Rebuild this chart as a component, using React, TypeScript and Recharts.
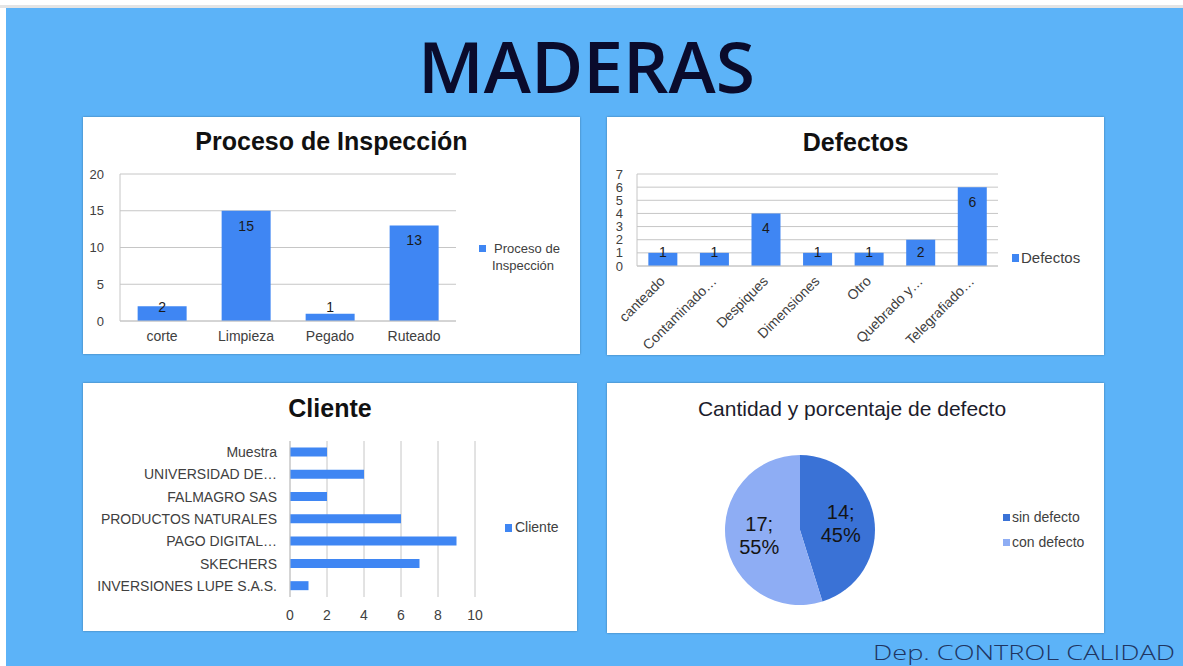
import React from 'react';
import { BarChart, Bar, XAxis, YAxis, CartesianGrid, LabelList, PieChart, Pie, Cell } from 'recharts';

// ---------- data ----------
const procesoCategories = ['corte', 'Limpieza', 'Pegado', 'Ruteado'];
const procesoValues = [2, 15, 1, 13];
const procesoTicks = [0, 5, 10, 15, 20];
const procesoSeries = 'Proceso de Inspección';

const defectosCategories = ['canteado', 'Contaminado…', 'Despiques', 'Dimensiones', 'Otro', 'Quebrado y…', 'Telegrafiado…'];
const defectosValues = [1, 1, 4, 1, 1, 2, 6];
const defectosTicks = [0, 1, 2, 3, 4, 5, 6, 7];
const defectosSeries = 'Defectos';

const clienteCategories = ['Muestra', 'UNIVERSIDAD DE…', 'FALMAGRO SAS', 'PRODUCTOS NATURALES', 'PAGO DIGITAL…', 'SKECHERS', 'INVERSIONES LUPE S.A.S.'];
const clienteValues = [2, 4, 2, 6, 9, 7, 1];
const clienteTicks = [0, 2, 4, 6, 8, 10];
const clienteSeries = 'Cliente';

const pieCategories = ['sin defecto', 'con defecto'];
const pieValues = [14, 17];
const pieTitle = 'Cantidad y porcentaje de defecto';

const mainTitle = 'MADERAS';
const footerText = 'Dep. CONTROL CALIDAD';

// ---------- styles ----------
const FONT = "'Liberation Sans', Arial, sans-serif";
const BLUE_BG = '#5cb3f8';
const BAR = '#3f86f3';
const PIE_COLORS = ['#3a72d6', '#8eadf4'];
const GRID = '#c6c6c6';
const TICK = '#404040';

const procesoData = procesoCategories.map((c, i) => ({ name: c, value: procesoValues[i] }));
const defectosData = defectosCategories.map((c, i) => ({ name: c, value: defectosValues[i] }));
const clienteData = clienteCategories.map((c, i) => ({ name: c, value: clienteValues[i] }));
const pieData = pieCategories.map((c, i) => ({ name: c, value: pieValues[i] }));

const BarValueLabel = (props: any) => {
  const { x, y, width, height, value } = props;
  const cy = Number(y) + Math.min(15, Number(height) - 14);
  return (
    <text x={Number(x) + Number(width) / 2} y={cy} dy="0.35em" textAnchor="middle" fontSize={14} fill="#1a1a1a" fontFamily={FONT}>
      {value}
    </text>
  );
};

const RotatedTick = (props: any) => {
  const { x, y, payload } = props;
  return (
    <g transform={`translate(${x + 3},${y + 10})`}>
      <text x={0} y={0} textAnchor="end" transform="rotate(-45)" fontSize={14} fill={TICK} fontFamily={FONT}>
        {payload.value}
      </text>
    </g>
  );
};

const RADIAN = Math.PI / 180;
const PieLabel = (props: any) => {
  const { cx, cy, midAngle, outerRadius, value, percent } = props;
  const r = outerRadius * 0.55;
  const lx = cx + r * Math.cos(-midAngle * RADIAN);
  const ly = cy + r * Math.sin(-midAngle * RADIAN);
  return (
    <text x={lx} y={ly} textAnchor="middle" fontSize={20} fill="#141414" fontFamily={FONT}>
      <tspan x={lx} dy="-0.25em">{`${value};`}</tspan>
      <tspan x={lx} dy="1.15em">{`${Math.round(percent * 100)}%`}</tspan>
    </text>
  );
};

const panel = (left: number, top: number, width: number, height: number): React.CSSProperties => ({
  position: 'absolute',
  left,
  top,
  width,
  height,
  background: '#ffffff',
  boxShadow: '0 0 2px rgba(0,0,0,0.35)',
});

export default function App() {
  return (
    <div style={{ position: 'absolute', left: 0, top: 0, width: 1183, height: 666, background: '#ffffff', overflow: 'hidden' }}>
      <div style={{ position: 'absolute', left: 0, top: 5, width: 1183, height: 3, background: '#e4e4e4' }} />
      <div style={{ position: 'absolute', left: 6, top: 8, width: 1177, height: 658, background: BLUE_BG }} />

      {/* Proceso de Inspección */}
      <div style={panel(83, 117, 497, 237)}>
        <BarChart width={497} height={237} data={procesoData} margin={{ top: 57, right: 124, bottom: 0, left: 7 }} barCategoryGap="21%">
          <CartesianGrid vertical={false} stroke={GRID} />
          <XAxis dataKey="name" height={33} tickLine={false} axisLine={{ stroke: GRID }} tickMargin={4}
            tick={{ fontSize: 14, fill: TICK, fontFamily: FONT }} interval={0} />
          <YAxis width={30} domain={[0, 20]} ticks={procesoTicks} tickLine={false} axisLine={{ stroke: GRID }} tickMargin={10}
            tick={{ fontSize: 13, fill: TICK, fontFamily: FONT }} />
          <Bar dataKey="value" name={procesoSeries} fill={BAR} isAnimationActive={false}>
            <LabelList dataKey="value" content={BarValueLabel} />
          </Bar>
        </BarChart>
      </div>

      {/* Defectos */}
      <div style={panel(607, 117, 497, 238)}>
        <BarChart width={497} height={238} data={defectosData} margin={{ top: 57, right: 106, bottom: 0, left: 6 }} barCategoryGap="22%">
          <CartesianGrid vertical={false} stroke={GRID} />
          <XAxis dataKey="name" height={89} tickLine={false} axisLine={{ stroke: GRID }} tickMargin={0}
            tick={RotatedTick} interval={0} />
          <YAxis width={24} domain={[0, 7]} ticks={defectosTicks} tickLine={false} axisLine={{ stroke: GRID }} tickMargin={8}
            tick={{ fontSize: 13, fill: TICK, fontFamily: FONT }} interval={0} />
          <Bar dataKey="value" name={defectosSeries} fill={BAR} isAnimationActive={false}>
            <LabelList dataKey="value" content={BarValueLabel} />
          </Bar>
        </BarChart>
      </div>

      {/* Cliente */}
      <div style={panel(83, 383, 494, 248)}>
        <BarChart width={494} height={248} data={clienteData} layout="vertical" margin={{ top: 58, right: 102, bottom: 0, left: 5 }} barCategoryGap="29%">
          <CartesianGrid horizontal={false} stroke={GRID} />
          <XAxis type="number" domain={[0, 10]} ticks={clienteTicks} height={34} tickLine={false} axisLine={false} tickMargin={7}
            tick={{ fontSize: 14, fill: TICK, fontFamily: FONT }} />
          <YAxis type="category" dataKey="name" width={202} tickLine={false} axisLine={{ stroke: GRID }} tickMargin={7}
            tick={{ fontSize: 14, fill: TICK, fontFamily: FONT }} interval={0} />
          <Bar dataKey="value" name={clienteSeries} fill={BAR} isAnimationActive={false} />
        </BarChart>
      </div>

      {/* Pie */}
      <div style={panel(607, 383, 497, 250)}>
        <PieChart width={497} height={250} margin={{ top: 0, right: 0, bottom: 0, left: 0 }}>
          <Pie data={pieData} dataKey="value" nameKey="name" cx={193} cy={147} outerRadius={75}
            startAngle={90} endAngle={-270} stroke="none" isAnimationActive={false}
            label={PieLabel} labelLine={false}>
            {pieData.map((d, i) => (
              <Cell key={d.name} fill={PIE_COLORS[i]} />
            ))}
          </Pie>
        </PieChart>
      </div>

      {/* Titles, legends, footer */}
      <svg width={1183} height={666} style={{ position: 'absolute', left: 0, top: 0, pointerEvents: 'none' }}>
        <text x={586.5} y={93} textAnchor="middle" fontSize={71} fontFamily="'Open Sans', sans-serif" fontWeight={600}
          fill="#0a0b2c" textLength={337} lengthAdjust="spacingAndGlyphs">{mainTitle}</text>

        <text x={331.5} y={150} textAnchor="middle" fontSize={25} fontWeight="bold" fontFamily={FONT} fill="#111">{procesoSeries}</text>
        <text x={855.5} y={151} textAnchor="middle" fontSize={25} fontWeight="bold" fontFamily={FONT} fill="#111">{defectosSeries}</text>
        <text x={330} y={417} textAnchor="middle" fontSize={25} fontWeight="bold" fontFamily={FONT} fill="#111">{clienteSeries}</text>
        <text x={852} y={416} textAnchor="middle" fontSize={21} fontFamily={FONT} fill="#1c1c2c">{pieTitle}</text>

        {/* legend: Proceso */}
        <rect x={479} y={245} width={7} height={7} fill={BAR} />
        <text x={527} y={253} textAnchor="middle" fontSize={13} fontFamily={FONT} fill={TICK}>Proceso de</text>
        <text x={523} y={270} textAnchor="middle" fontSize={13} fontFamily={FONT} fill={TICK}>Inspección</text>

        {/* legend: Defectos */}
        <rect x={1012} y={254} width={7} height={8} fill={BAR} />
        <text x={1021} y={263} fontSize={15} fontFamily={FONT} fill={TICK}>{defectosSeries}</text>

        {/* legend: Cliente */}
        <rect x={505} y={524} width={7} height={8} fill={BAR} />
        <text x={515} y={532} fontSize={14} fontFamily={FONT} fill={TICK}>{clienteSeries}</text>

        {/* legend: pie */}
        {pieCategories.map((c, i) => (
          <g key={c}>
            <rect x={1003} y={514 + i * 25} width={7} height={7} fill={PIE_COLORS[i]} />
            <text x={1012} y={522 + i * 25} fontSize={14} fontFamily={FONT} fill={TICK}>{c}</text>
          </g>
        ))}

        <text x={873} y={660} fontSize={21} fontFamily="'Open Sans', sans-serif" fontWeight={300}
          fill="#1f3561" textLength={302} lengthAdjust="spacingAndGlyphs">{footerText}</text>
      </svg>
    </div>
  );
}
